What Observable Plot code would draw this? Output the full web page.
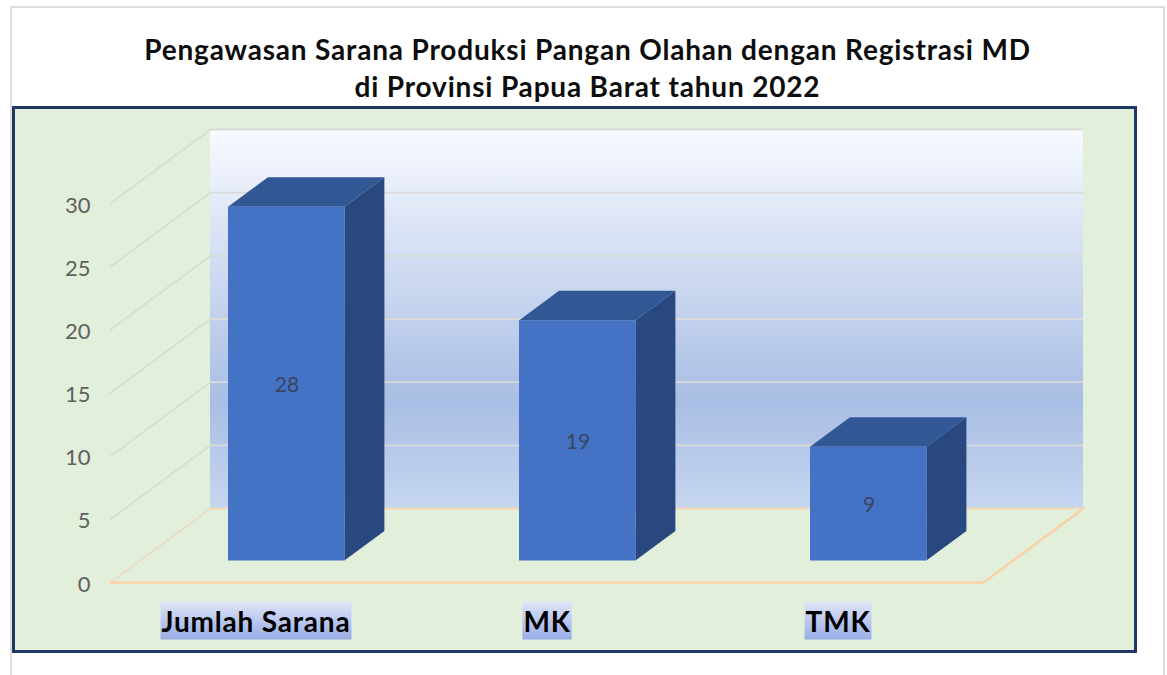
<!DOCTYPE html>
<html>
<head>
<meta charset="utf-8">
<script src="https://cdn.jsdelivr.net/npm/d3@7"></script>
<script src="https://cdn.jsdelivr.net/npm/@observablehq/plot@0.6"></script>
<style>
  html, body { margin: 0; padding: 0; background: #fff; width: 1167px; height: 675px; overflow: hidden; }
  #page { position: relative; width: 1167px; height: 675px; font-family: Lato, "Open Sans", sans-serif; }
  #outer { position: absolute; left: 10px; top: 6px; width: 1151px; height: 669px; border: 2px solid #dcdcdc; border-bottom: none; }
  #title { position: absolute; left: 0; width: 1175px; top: 31px; text-align: center; font-weight: 700; font-size: 28px; line-height: 37px; color: #0d0d0d; letter-spacing: 0.82px; }
  #panel { position: absolute; left: 12px; top: 106px; width: 1119px; height: 541px; border: 3px solid #203864; background: #e2efda; }
  #panel svg { display: block; background: transparent; overflow: visible; }
  .catlabel text { letter-spacing: 0.8px; }
</style>
</head>
<body>
<div id="page">
  <div id="outer"></div>
  <div id="title"></div>
  <div id="panel"></div>
</div>
<script>
const titleLines = ["Pengawasan Sarana Produksi Pangan Olahan dengan Registrasi MD", "di Provinsi Papua Barat tahun 2022"];
const categories = ["Jumlah Sarana", "MK", "TMK"];
const values = [28, 19, 9];
const yTicks = [0, 5, 10, 15, 20, 25, 30];

document.getElementById("title").innerHTML = titleLines.join("<br>");

// Oblique 3D projection, expressed in data units
const depthX = 100 / 291;   // horizontal shift of full depth, in category units
const depthY = 74 / 12.63;  // vertical shift of full depth, in value units
const gap = 0.3;            // bar occupies 0.3..0.7 across and in depth
const px = (cat, z) => cat + z * depthX;
const py = (val, z) => val + z * depthY;

const bars = categories.map((name, i) => ({name, i, v: values[i]}));
const sideFaces = bars.flatMap(b => [gap, 1 - gap].map(z => ({
  name: b.name, x: px(b.i + 1 - gap, z), y1: py(0, z), y2: py(b.v, z)
})));
const topFaces = bars.flatMap(b => [gap, 1 - gap].map(z => ({
  name: b.name, y: py(b.v, z), x1: px(b.i + gap, z), x2: px(b.i + 1 - gap, z)
})));
const diagonal = yTicks.flatMap(t => [0, 1].map(z => ({t, x: px(0, z), y: py(t, z)})));
const floorEdge = [[0, 0], [3, 0], [3, 1]].map(([c, z]) => ({x: px(c, z), y: py(0, z)}));

function gradient(id, stops) {
  const d = d3.create("svg:defs");
  const g = d.append("linearGradient").attr("id", id).attr("x1", 0).attr("x2", 0).attr("y1", 0).attr("y2", 1);
  stops.forEach(([o, c]) => g.append("stop").attr("offset", o).attr("stop-color", c));
  return d.node();
}

const chart = Plot.plot({
  width: 1119,
  height: 541,
  marginLeft: 95,
  marginRight: 151,
  marginTop: 94,
  marginBottom: 68,
  style: {background: "transparent", fontFamily: "Lato, 'Open Sans', sans-serif"},
  x: {domain: [0, 3], axis: null},
  y: {domain: [0, 30], axis: null},
  marks: [
    () => gradient("wallFill", [[0, "#f8faff"], [0.72, "#a9bee4"], [1, "#c6d6ef"]]),
    () => gradient("labelFill", [[0, "#dfe5f7"], [1, "#98ace6"]]),
    // back wall
    Plot.rect([0], {x1: px(0, 1), x2: px(3, 1), y1: py(0, 1), y2: py(30, 1), fill: "url(#wallFill)"}),
    // grid on the back wall and the left wall
    Plot.ruleY(yTicks.filter(t => t > 0), {y: t => py(t, 1), x1: px(0, 1), x2: px(3, 1), stroke: "#d9d9d9", strokeWidth: 1.8}),
    Plot.line(diagonal, {x: "x", y: "y", z: "t", stroke: d => d.t === 0 ? "#ecdccb" : "#d5dddb", strokeWidth: 1.8}),
    // floor
    Plot.ruleY([py(0, 1)], {x1: px(0, 1), x2: px(3, 1), stroke: "#f6d6b4", strokeWidth: 1.8}),
    Plot.line(floorEdge, {x: "x", y: "y", stroke: "#fad2a6", strokeWidth: 2.5}),
    // bars
    Plot.areaY(sideFaces, {x: "x", y1: "y1", y2: "y2", z: "name", fill: "#2a4880", dx: 0.7, dy: 0.7}),
    Plot.areaX(topFaces, {y: "y", x1: "x1", x2: "x2", z: "name", fill: "#325795", dx: 0.7, dy: 0.7}),
    Plot.rect(bars, {
      x1: d => px(d.i + gap, gap), x2: d => px(d.i + 1 - gap, gap),
      y1: py(0, gap), y2: d => py(d.v, gap), fill: "#4472c4", dx: 0.7, dy: 0.7
    }),
    Plot.text(bars, {
      x: d => px(d.i + 0.5, gap), y: d => py(d.v / 2, gap), text: d => String(d.v),
      fill: "#3a4560", fontSize: 21, dx: 1, dy: 2
    }),
    Plot.axisY(yTicks, {tickSize: 0, tickPadding: 20, label: null, color: "#606060", fontSize: 22, dy: 2}),
    Plot.text(bars, {
      x: d => d.i + 0.5, frameAnchor: "bottom", dy: 49, text: "name",
      fill: "#000", fontSize: 28, fontWeight: 700, className: "catlabel"
    })
  ]
});
document.getElementById("panel").appendChild(chart);

// highlight behind each category label, sized from the rendered text
d3.select(chart).selectAll(".catlabel text").each(function () {
  const b = this.getBBox();
  const t = this.getAttribute("transform");
  d3.select(this.parentNode).insert("rect", () => this)
    .attr("x", b.x - 1).attr("y", b.y - 2).attr("width", b.width + 2).attr("height", b.height + 4)
    .attr("transform", t).attr("fill", "url(#labelFill)");
});
</script>
</body>
</html>
